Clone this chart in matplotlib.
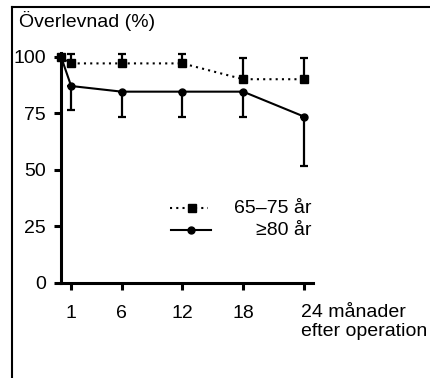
import matplotlib.pyplot as plt
from matplotlib.lines import Line2D

plt.rcParams['font.family'] = ['Liberation Sans', 'DejaVu Sans']

# survival (%) after operation
months = [0, 1, 6, 12, 18, 24]
surv_65_75 = [100, 97, 97, 97, 90, 90]
surv_80 = [100, 87, 84.5, 84.5, 84.5, 73.5]

# error bars: upper for 65-75, lower for >=80 (x=0 has none)
err_months = [1, 6, 12, 18, 24]
upper_65_75 = [101, 101, 101, 99.5, 99.5]
lower_80 = [76.5, 73.4, 73.4, 73.4, 51.5]

y_ticks = [0, 25, 50, 75, 100]
x_ticks = [1, 6, 12, 18]

fs = 14

fig = plt.figure(figsize=(4.3, 3.78), dpi=100)
ax = fig.add_axes([61 / 430, 1 - 282.7 / 378, 252 / 430, 229.7 / 378])

ax.plot(months, surv_65_75, color='black', lw=1.5, ls=(0, (1, 2)),
        marker='s', ms=5.8, clip_on=False, zorder=3)
ax.plot(months, surv_80, color='black', lw=1.5, ls='-',
        marker='o', ms=5, clip_on=False, zorder=3)

y65 = surv_65_75[1:]
y80 = surv_80[1:]
ax.errorbar(err_months, y65,
            yerr=[[0] * len(y65), [u - v for u, v in zip(upper_65_75, y65)]],
            fmt='none', ecolor='black', elinewidth=1.6, capsize=2.6, capthick=1.6,
            clip_on=False)
ax.errorbar(err_months, y80,
            yerr=[[v - l for v, l in zip(y80, lower_80)], [0] * len(y80)],
            fmt='none', ecolor='black', elinewidth=1.6, capsize=2.6, capthick=1.6,
            clip_on=False)

ax.set_xlim(0, 24.9)
ax.set_ylim(0, 101.6)
for s in ['top', 'right']:
    ax.spines[s].set_visible(False)
for s in ['left', 'bottom']:
    ax.spines[s].set_linewidth(2.2)

ax.set_yticks(y_ticks)
ax.set_yticklabels([str(v) for v in y_ticks], fontsize=fs)
ax.set_xticks(x_ticks + [24])
ax.set_xticklabels([str(v) for v in x_ticks] + [''], fontsize=fs)
ax.tick_params(axis='both', direction='out', length=5, width=2.2)
ax.tick_params(axis='y', pad=6)
ax.tick_params(axis='x', pad=11)

tr = ax.get_xaxis_transform()
ax.text(23.7, -0.171, '24 månader\nefter operation', transform=tr,
        ha='left', va='center', fontsize=fs, linespacing=1.2)

# legend drawn by hand so the labels align right
ta = ax.transAxes
ax.add_line(Line2D([0.4325, 0.583], [0.325, 0.325], transform=ta,
                   color='black', lw=1.5, ls=(0, (1, 2))))
ax.add_line(Line2D([0.52], [0.325], transform=ta, color='black',
                   marker='s', ms=5.8))
ax.add_line(Line2D([0.436, 0.595], [0.229, 0.229], transform=ta,
                   color='black', lw=1.5))
ax.add_line(Line2D([0.516], [0.229], transform=ta, color='black',
                   marker='o', ms=5))
ax.text(0.996, 0.325, '65–75 år', transform=ta, ha='right', va='center',
        fontsize=fs)
ax.text(0.996, 0.229, '≥80 år', transform=ta, ha='right', va='center',
        fontsize=fs)

fig.text(19 / 430, 1 - 21 / 378, 'Överlevnad (%)', ha='left', va='center',
         fontsize=fs)

# frame lines (top and left) around the figure
fig.add_artist(Line2D([11.5 / 430, 11.5 / 430], [0, 1 - 6.5 / 378],
                      transform=fig.transFigure, color='black', lw=1.5))
fig.add_artist(Line2D([11.5 / 430, 1], [1 - 6.5 / 378, 1 - 6.5 / 378],
                      transform=fig.transFigure, color='black', lw=1.5))

fig.savefig('out.png', dpi=100)
